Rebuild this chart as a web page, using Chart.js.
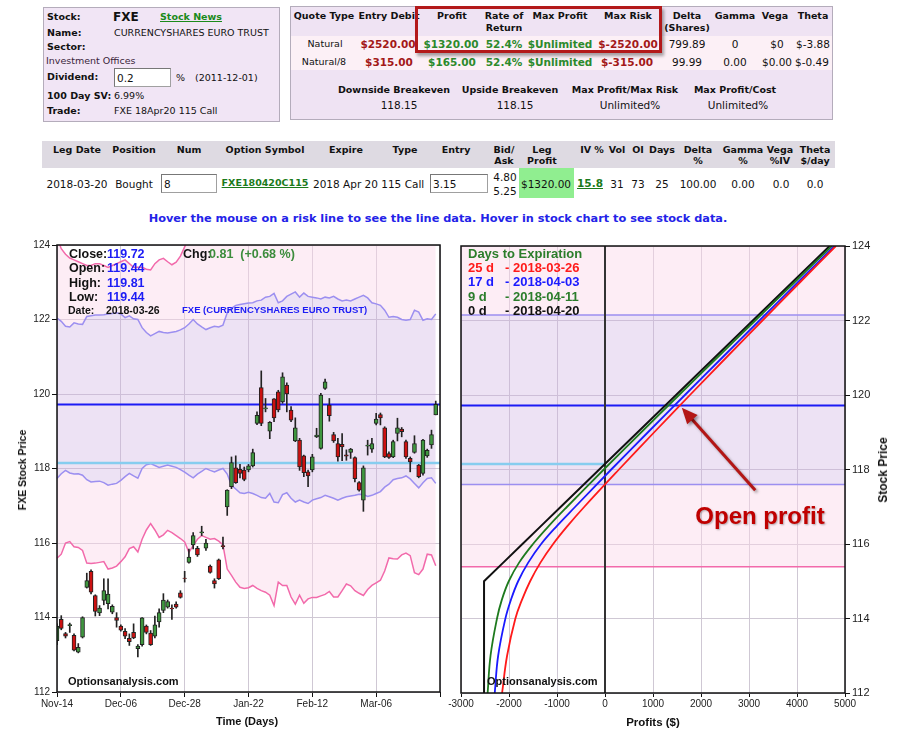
<!DOCTYPE html>
<html>
<head>
<meta charset="utf-8">
<title>FXE risk graph</title>
<script src="https://cdn.jsdelivr.net/npm/chart.js@4.4.0/dist/chart.umd.min.js"></script>
<style>
body{margin:0;background:#fff;width:900px;height:730px;position:relative;overflow:hidden;font-family:"DejaVu Sans",Verdana,sans-serif;color:#111}
.t{position:absolute;white-space:pre;line-height:14px;height:14px;font-size:10.5px}
.box{position:absolute;box-sizing:border-box}
canvas{position:absolute}
</style>
</head>
<body>
<canvas id="stockChart" width="450" height="500" style="left:0;top:235px"></canvas>
<canvas id="riskChart" width="460" height="500" style="left:440px;top:235px"></canvas>
<script>
// ==========================================
// STOCK DATA (daily candles)
// ==========================================
const days = [
  'Nov-14','Nov-15','Nov-16','Nov-17','Nov-20','Nov-21','Nov-22','Nov-24','Nov-27','Nov-28','Nov-29','Nov-30',
  'Dec-01','Dec-04','Dec-05','Dec-06','Dec-07','Dec-08','Dec-11','Dec-12','Dec-13','Dec-14','Dec-15','Dec-18',
  'Dec-19','Dec-20','Dec-21','Dec-22','Dec-26','Dec-27','Dec-28','Dec-29',
  'Jan-02','Jan-03','Jan-04','Jan-05','Jan-08','Jan-09','Jan-10','Jan-11','Jan-12','Jan-16','Jan-17','Jan-18',
  'Jan-19','Jan-22','Jan-23','Jan-24','Jan-25','Jan-26','Jan-29','Jan-30','Jan-31',
  'Feb-01','Feb-02','Feb-05','Feb-06','Feb-07','Feb-08','Feb-09','Feb-12','Feb-13','Feb-14','Feb-15','Feb-16',
  'Feb-20','Feb-21','Feb-22','Feb-23','Feb-26','Feb-27','Feb-28',
  'Mar-01','Mar-02','Mar-05','Mar-06','Mar-07','Mar-08','Mar-09','Mar-12','Mar-13','Mar-14','Mar-15','Mar-16',
  'Mar-19','Mar-20','Mar-21','Mar-22','Mar-23','Mar-26',''
];
const tickEvery = 15;

const open = [
  113.38,113.95,113.57,113.78,113.52,113.07,113.47,114.81,115.24,114.59,
  114.12,114.46,114.37,114.14,114.0,113.77,113.63,113.44,113.6,113.16,
  113.27,113.77,113.58,113.5,113.88,114.19,114.28,114.25,114.36,114.66,
  115.06,115.48,115.95,115.86,116.27,115.86,115.38,114.99,115.55,115.93,
  116.97,117.51,118.02,117.98,117.96,117.96,118.07,119.21,120.17,119.6,
  119.0,119.87,120.06,119.79,120.24,119.57,118.74,118.76,118.34,117.91,
  117.96,118.85,118.54,120.15,119.7,118.91,118.67,118.65,118.37,118.43,
  118.29,117.62,117.15,118.6,118.52,119.21,119.45,119.09,118.4,118.31,
  118.94,119.06,118.72,118.27,118.43,118.09,117.87,118.34,118.63,119.44
];
const high = [
  113.83,114.05,113.6,113.85,113.56,113.3,114.02,115.19,115.28,114.61,
  114.32,115.04,115.04,114.34,114.13,113.8,113.7,113.56,113.83,113.27,
  114.0,113.8,113.65,114.04,114.23,114.64,114.47,114.34,114.42,114.72,
  115.24,115.84,116.28,115.91,116.45,116.1,115.41,115.04,115.57,116.16,
  117.43,118.31,118.34,118.11,118.04,118.11,118.52,119.52,120.62,119.88,
  119.26,119.88,120.1,120.57,120.3,119.66,119.36,118.81,118.36,117.96,
  118.38,119.08,120.02,120.4,119.88,118.97,118.81,118.94,118.5,118.54,
  118.31,117.65,118.07,118.76,118.81,119.48,119.49,119.12,118.45,118.76,
  119.35,119.1,118.76,118.31,118.88,118.11,118.78,118.52,119.03,119.81
];
const low = [
  113.27,113.67,113.45,113.6,113.1,113.05,113.45,114.79,114.63,114.04,
  114.05,114.34,114.23,114.1,113.74,113.63,113.43,113.25,113.43,112.94,
  113.23,113.56,113.25,113.45,113.74,114.13,114.25,113.95,114.25,114.52,
  114.95,115.46,115.84,115.64,116.2,115.8,115.19,114.79,115.02,115.84,
  116.74,117.46,117.6,117.75,117.67,117.91,118.04,119.18,119.15,119.52,
  118.8,119.26,119.52,119.75,119.52,119.26,118.72,117.95,117.78,117.51,
  117.91,118.83,118.52,120.12,119.27,118.7,118.2,118.21,118.22,118.27,
  117.64,117.39,116.85,118.36,118.43,119.17,119.17,118.29,118.27,118.29,
  118.74,118.85,118.27,117.91,118.41,117.75,117.82,118.3,118.54,119.44
];
const close = [
  113.77,113.71,113.5,113.81,113.12,113.2,114.0,114.99,114.68,114.16,
  114.25,114.72,114.63,114.3,113.92,113.66,113.5,113.35,113.45,113.23,
  113.99,113.6,113.27,113.8,114.13,114.47,114.43,114.23,114.28,114.54,
  115.05,115.62,116.2,115.68,116.3,116.0,115.21,114.9,115.04,115.9,
  117.42,118.16,117.62,117.87,117.71,118.07,118.43,119.43,119.21,119.63,
  119.24,119.36,119.57,120.46,120.0,119.3,119.09,118.04,117.89,117.8,
  118.31,118.9,119.97,120.33,119.42,118.74,118.31,118.58,118.33,118.52,
  117.73,117.42,118.02,118.63,118.67,119.33,119.36,118.31,118.3,118.72,
  119.09,118.99,118.31,118.18,118.67,117.78,118.76,118.49,118.91,119.72
];

// volatility bands (1 SD purple, 2 SD pink)
const bandUpper = [
  122.04,121.95,121.82,121.8,121.91,121.88,121.87,122.08,122.1,122.12,
  122.12,122.13,122.15,122.16,122.18,122.15,122.05,122.1,122.02,122.0,
  121.78,121.65,121.56,121.62,121.68,121.65,121.64,121.66,121.68,121.72,
  121.78,121.88,122.0,121.88,121.8,121.73,121.78,121.82,121.8,121.85,
  122.18,122.3,122.38,122.4,122.42,122.44,122.45,122.5,122.52,122.6,
  122.62,122.7,122.45,122.5,122.62,122.68,122.74,122.6,122.71,122.62,
  122.6,122.58,122.55,122.6,122.58,122.62,122.55,122.5,122.52,122.5,
  122.55,122.6,122.65,122.58,122.45,122.42,122.38,122.25,122.06,122.08,
  122.06,122.0,121.98,122.0,122.25,122.2,121.98,122.02,122.0,122.15
];
const bandLower = [
  117.73,117.86,117.95,117.88,117.85,117.86,117.82,117.7,117.64,117.65,
  117.66,117.62,117.55,117.58,117.6,117.68,117.78,117.87,117.8,117.74,
  118.0,118.1,118.13,118.08,118.03,118.06,118.09,118.06,118.03,117.97,
  117.9,117.82,117.75,117.85,117.92,118.0,117.95,117.91,117.96,118.0,
  117.85,117.55,117.45,117.35,117.33,117.36,117.33,117.28,117.22,117.2,
  117.33,117.1,117.08,117.3,117.35,117.2,117.1,117.15,117.1,117.06,
  117.15,117.19,117.22,117.28,117.24,117.2,117.15,117.2,117.24,117.26,
  117.28,117.31,117.3,117.25,117.28,117.33,117.38,117.5,117.58,117.7,
  117.73,117.75,117.8,117.72,117.6,117.48,117.62,117.73,117.75,117.6
];
const outerUpper = [
  124.2,123.9,123.75,123.65,123.6,123.55,123.5,123.45,123.45,123.5,
  123.5,123.45,123.4,123.45,123.5,123.55,123.6,123.5,123.4,123.4,
  123.4,123.35,123.33,123.5,123.6,123.64,123.55,123.47,123.54,123.7,
  123.95,124.2,124.6,124.5,124.4,124.35,124.4,124.45,124.4,124.45,
  124.8,125.0,125.1,125.15,125.2,125.2,125.25,125.3,125.35,125.4,
  125.45,125.5,125.3,125.35,125.45,125.5,125.55,125.45,125.5,125.45,
  125.4,125.4,125.38,125.42,125.4,125.44,125.38,125.34,125.35,125.33,
  125.36,125.4,125.45,125.38,125.28,125.25,125.2,125.1,124.9,124.9,
  124.88,124.8,124.8,124.82,125.0,124.98,124.8,124.84,124.82,124.95
];
const outerLower = [
  115.59,115.7,116.0,116.04,115.9,115.88,115.8,115.46,115.45,115.46,
  115.48,115.5,115.3,115.33,115.38,115.5,115.63,115.85,115.9,115.76,
  116.1,116.35,116.52,116.35,116.15,116.22,116.34,116.28,116.2,116.12,
  116.03,115.75,115.93,116.1,116.2,116.15,116.1,116.12,116.05,115.95,
  115.3,115.13,114.95,114.81,114.78,114.8,114.86,114.78,114.72,114.68,
  114.6,114.32,114.95,114.86,114.86,114.55,114.36,114.6,114.38,114.5,
  114.54,114.54,114.58,114.62,114.7,114.55,114.55,114.72,114.9,114.85,
  114.72,114.65,114.59,114.75,114.86,114.93,115.0,115.25,115.6,115.58,
  115.57,115.68,115.73,115.66,115.2,115.15,115.3,115.7,115.68,115.39
];
const breakeven = 118.15;

// ==========================================
// RISK GRAPH DATA (profit $ at each stock price)
// ==========================================
const prices = [112,113,114,114.5,115,115.5,116,116.5,117,118,119,120,121,122,123,124];
const pl25d = [-2144,-2040,-1867,-1730,-1560,-1345,-1080,-770,-430,290,1025,1770,2522,3280,4043,4810];
const pl17d = [-2297,-2226,-2075,-1960,-1810,-1600,-1330,-990,-620,130,895,1665,2440,3218,3998,4780];
const pl9d  = [-2445,-2385,-2250,-2150,-2005,-1790,-1500,-1160,-790,-25,755,1542,2334,3130,3928,4727];
const pl0d  = [-2520,-2520,-2520,-2520,-2520,-2120,-1720,-1320,-920,-120,680,1480,2280,3080,3880,4680];

const gridColor = '#cfc8d4';
const pinkLine = '#f26aab';
const purpleLine = '#9c8ff0';
const pinkFill = 'rgba(250,214,232,0.45)';
const lavFill = 'rgba(205,175,225,0.36)';
const tickFont = {family: 'Liberation Sans', size: 10};

const frame = {
  id: 'frame',
  afterDraw(chart) {
    const {ctx, chartArea: a} = chart;
    ctx.save();
    ctx.strokeStyle = '#111';
    ctx.lineWidth = 1.5;
    ctx.strokeRect(a.left, a.top, a.right - a.left, a.bottom - a.top);
    ctx.restore();
  }
};

// ==========================================
// Stock chart
// ==========================================
const last = close.length - 1;
new Chart(document.getElementById('stockChart'), {
  type: 'bar',
  data: {
    labels: days,
    datasets: [
      {type: 'line', data: outerUpper, borderColor: pinkLine, borderWidth: 1.5, pointRadius: 0, fill: '+1', backgroundColor: pinkFill, order: 10},
      {type: 'line', data: bandUpper, borderColor: purpleLine, borderWidth: 1.5, pointRadius: 0, fill: '+1', backgroundColor: lavFill, order: 9},
      {type: 'line', data: bandLower, borderColor: purpleLine, borderWidth: 1.5, pointRadius: 0, fill: '+1', backgroundColor: pinkFill, order: 8},
      {type: 'line', data: outerLower, borderColor: pinkLine, borderWidth: 1.5, pointRadius: 0, fill: false, order: 7},
      {type: 'line', data: days.map(() => breakeven), borderColor: '#86cdef', borderWidth: 2.5, pointRadius: 0, order: 6},
      {type: 'line', data: days.map(() => close[last]), borderColor: '#1c1cf5', borderWidth: 2, pointRadius: 0, order: 5},
      {
        data: low.map((l, i) => [l, high[i]]),
        backgroundColor: '#222', barThickness: 1, grouped: false, order: 2
      },
      {
        data: open.map((o, i) => [o, close[i]]),
        backgroundColor: open.map((o, i) => close[i] >= o ? '#3f963f' : '#cc1111'),
        borderColor: '#222', borderWidth: 1, borderSkipped: false,
        barThickness: 4, grouped: false, order: 1
      }
    ]
  },
  options: {
    responsive: false,
    animation: false,
    layout: {padding: {top: 10, right: 10, left: 0, bottom: 0}},
    plugins: {legend: {display: false}, tooltip: {enabled: false}},
    scales: {
      x: {
        offset: false,
        grid: {
          offset: false,
          color: c => c.index % tickEvery === 0 ? gridColor : 'transparent',
          tickColor: c => c.index % tickEvery === 0 ? '#111' : 'transparent',
          tickLength: 5
        },
        border: {display: false},
        ticks: {
          autoSkip: false, maxRotation: 0, padding: 1, font: tickFont, color: '#222',
          callback: (v, i) => i % tickEvery === 0 ? days[i] : ''
        },
        afterFit: s => { s.height = 43; }
      },
      y: {
        min: 112, max: 124,
        grid: {color: gridColor, tickColor: '#111', tickLength: 5},
        border: {display: false},
        ticks: {stepSize: 2, font: tickFont, color: '#222', padding: 2},
        afterFit: s => { s.width = 57; }
      }
    }
  },
  plugins: [frame]
});

// ==========================================
// Risk graph
// ==========================================
const arrow = {
  id: 'arrow',
  afterDatasetsDraw(chart) {
    const {ctx, scales: {x, y}} = chart;
    const x0 = x.getPixelForValue(3130), y0 = y.getPixelForValue(117.44);
    const x1 = x.getPixelForValue(1600), y1 = y.getPixelForValue(119.66);
    const a = Math.atan2(y1 - y0, x1 - x0);
    const c = Math.cos(a), s = Math.sin(a);
    ctx.save();
    ctx.shadowColor = 'rgba(0,0,0,0.35)';
    ctx.shadowBlur = 3;
    ctx.shadowOffsetX = 2;
    ctx.shadowOffsetY = 2;
    ctx.strokeStyle = '#b31616';
    ctx.fillStyle = '#b31616';
    ctx.lineWidth = 3;
    ctx.beginPath();
    ctx.moveTo(x0, y0);
    ctx.lineTo(x1 - 12 * c, y1 - 12 * s);
    ctx.stroke();
    ctx.beginPath();
    ctx.moveTo(x1, y1);
    ctx.lineTo(x1 - 16 * c + 7 * s, y1 - 16 * s - 7 * c);
    ctx.lineTo(x1 - 16 * c - 7 * s, y1 - 16 * s + 7 * c);
    ctx.closePath();
    ctx.fill();
    ctx.restore();
  }
};

const level = (v, from, to) => [{x: from, y: v}, {x: to, y: v}];
const curve = pl => prices.map((p, i) => ({x: pl[i], y: p}));

new Chart(document.getElementById('riskChart'), {
  type: 'line',
  data: {
    datasets: [
      {data: level(outerUpper[last], -3000, 5000), borderWidth: 0, pointRadius: 0, fill: '+1', backgroundColor: pinkFill, order: 10},
      {data: level(bandUpper[last], -3000, 5000), borderColor: purpleLine, borderWidth: 1.5, pointRadius: 0, fill: '+1', backgroundColor: lavFill, order: 9},
      {data: level(bandLower[last], -3000, 5000), borderColor: purpleLine, borderWidth: 1.5, pointRadius: 0, fill: '+1', backgroundColor: pinkFill, order: 8},
      {data: level(outerLower[last], -3000, 5000), borderColor: pinkLine, borderWidth: 1.5, pointRadius: 0, fill: false, order: 7},
      {data: level(breakeven, -3000, 0), borderColor: '#86cdef', borderWidth: 2.5, pointRadius: 0, order: 6},
      {data: level(close[last], -3000, 5000), borderColor: '#1c1cf5', borderWidth: 2, pointRadius: 0, order: 5},
      {data: [{x: 0, y: 112}, {x: 0, y: 124}], borderColor: '#333', borderWidth: 2, pointRadius: 0, order: 4},
      {data: curve(pl0d), borderColor: '#111', borderWidth: 2, pointRadius: 0, order: 3},
      {data: curve(pl9d), borderColor: '#1e7a1e', borderWidth: 1.8, pointRadius: 0, tension: 0.4, order: 2},
      {data: curve(pl17d), borderColor: '#1a1aff', borderWidth: 1.8, pointRadius: 0, tension: 0.4, order: 1},
      {data: curve(pl25d), borderColor: '#ff1a1a', borderWidth: 1.8, pointRadius: 0, tension: 0.4, order: 0}
    ]
  },
  options: {
    responsive: false,
    animation: false,
    layout: {padding: {top: 11, right: 0, left: 21, bottom: 0}},
    plugins: {legend: {display: false}, tooltip: {enabled: false}},
    scales: {
      x: {
        type: 'linear', min: -3000, max: 5000,
        grid: {color: gridColor, tickColor: '#111', tickLength: 4},
        border: {display: false},
        ticks: {stepSize: 1000, font: tickFont, color: '#222', padding: 1, callback: v => String(v)},
        afterFit: s => { s.height = 42; }
      },
      y: {
        type: 'linear', position: 'right', min: 112, max: 124,
        grid: {color: gridColor, tickColor: '#111', tickLength: 5},
        border: {display: false},
        ticks: {stepSize: 2, font: {family: 'Liberation Sans', size: 11}, color: '#222', padding: 2},
        afterFit: s => { s.width = 55; }
      }
    }
  },
  plugins: [frame, arrow]
});

// ==========================================
// PAGE TEXT
// ==========================================
function put(x, y, text, style, center) {
  const s = document.createElement('span');
  s.className = 't';
  s.textContent = text;
  s.style.cssText = style || '';
  s.style.left = x + 'px';
  s.style.top = (y - 7) + 'px';
  if (center) s.style.transform = 'translateX(-50%)';
  document.body.appendChild(s);
  return s;
}
function box(x, y, w, h, style) {
  const d = document.createElement('div');
  d.className = 'box';
  d.style.cssText = style;
  d.style.left = x + 'px';
  d.style.top = y + 'px';
  d.style.width = w + 'px';
  d.style.height = h + 'px';
  document.body.appendChild(d);
}
function field(x, y, w, h, text) {
  box(x, y, w, h, 'background:#fff;border:1px solid #a0a0a0;border-top-color:#777;border-left-color:#777');
  put(x + 3, y + h / 2, text, 'font-size:10.5px');
}

const B = 'font-weight:bold;font-size:9.5px;';
const N = 'font-size:9.5px;';
const RED = 'font-weight:bold;font-size:10.5px;color:#a31818;';
const GRN = 'font-weight:bold;font-size:10.5px;color:#2c8a2c;';
const V = 'font-size:10.5px;';

// stock box
box(43, 7, 237, 115, 'background:#f1e5f5;border:1px solid #b4acbb');
put(47, 17, 'Stock:', B);
put(113, 17, 'FXE', 'font-weight:bold;font-size:12px');
put(160, 17, 'Stock News', B + 'color:#1b8a1b;text-decoration:underline');
put(47, 33, 'Name:', B);
put(114, 33, 'CURRENCYSHARES EURO TRUST', N);
put(47, 47, 'Sector:', B);
put(46, 61, 'Investment Offices', N + 'color:#3b1f3b');
put(47, 77, 'Dividend:', B);
field(114, 68, 57, 19, '0.2');
put(176, 78, '%', N);
put(195, 78, '(2011-12-01)', N);
put(47, 96, '100 Day SV:', B);
put(114, 96, '6.99%', N);
put(47, 111, 'Trade:', B);
put(114, 111, 'FXE 18Apr20 115 Call', N);

// quote box
box(290, 6, 543, 114, 'background:#efe3f3;border:1px solid #b4acbb');
box(291, 36, 541, 34, 'background:#fcf0f6');
[[324, 'Quote Type'], [389, 'Entry Debit'], [452, 'Profit'], [504, 'Rate of', 'Return'],
 [560, 'Max Profit'], [628, 'Max Risk'], [687, 'Delta', '(Shares)'], [735, 'Gamma'],
 [775, 'Vega'], [813, 'Theta']].forEach(h => {
  put(h[0], 16, h[1], B, true);
  if (h[2]) put(h[0], 28, h[2], B, true);
});
put(325, 44, 'Natural', N, true);
put(388, 44, '$2520.00', RED, true);
put(451, 44, '$1320.00', GRN, true);
put(504, 44, '52.4%', GRN, true);
put(560, 44, '$Unlimited', GRN, true);
put(628, 44, '$-2520.00', RED, true);
put(687, 44, '799.89', V, true);
put(735, 44, '0', V, true);
put(777, 44, '$0', V, true);
put(813, 44, '$-3.88', V, true);
put(324, 62, 'Natural/8', N, true);
put(389, 62, '$315.00', RED, true);
put(452, 62, '$165.00', GRN, true);
put(504, 62, '52.4%', GRN, true);
put(560, 62, '$Unlimited', GRN, true);
put(627, 62, '$-315.00', RED, true);
put(687, 62, '99.99', V, true);
put(735, 62, '0.00', V, true);
put(777, 62, '$0.00', V, true);
put(812, 62, '$-0.49', V, true);
put(394, 90, 'Downside Breakeven', B, true);
put(510, 90, 'Upside Breakeven', B, true);
put(625, 90, 'Max Profit/Max Risk', B, true);
put(735, 90, 'Max Profit/Cost', B, true);
put(399, 105, '118.15', V, true);
put(515, 105, '118.15', V, true);
put(630, 105, 'Unlimited%', V, true);
put(738, 105, 'Unlimited%', V, true);
box(415, 6, 247, 47, 'border:3px solid #b3191a;box-shadow:2px 3px 3px rgba(0,0,0,0.35)');

// leg table
box(42, 141, 793, 27, 'background:#dedae2');
[[77, 'Leg Date'], [134, 'Position'], [189, 'Num'], [265, 'Option Symbol'], [346, 'Expire'],
 [405, 'Type'], [456, 'Entry'], [504, 'Bid/', 'Ask'], [542, 'Leg', 'Profit'], [592, 'IV %'],
 [617, 'Vol'], [638, 'OI'], [662, 'Days'], [698, 'Delta', '%'], [743, 'Gamma', '%'],
 [780, 'Vega', '%IV'], [815, 'Theta', '$/day']].forEach(h => {
  put(h[0], 150, h[1], B, true);
  if (h[2]) put(h[0], 161, h[2], B, true);
});
put(77, 184, '2018-03-20', V, true);
put(134, 184, 'Bought', V, true);
field(161, 174, 56, 19, '8');
put(265, 183, 'FXE180420C115', B + 'color:#1b7a1b;text-decoration:underline', true);
put(313, 184, '2018 Apr 20 115 Call', V);
field(430, 174, 58, 19, '3.15');
put(505, 177, '4.80', V, true);
put(505, 191, '5.25', V, true);
box(519, 168, 55, 30, 'background:#90ee90');
put(546, 184, '$1320.00', V, true);
put(590, 183, '15.8', 'font-weight:bold;font-size:10.5px;color:#1b7a1b;text-decoration:underline', true);
put(617, 184, '31', V, true);
put(638, 184, '73', V, true);
put(662, 184, '25', V, true);
put(698, 184, '100.00', V, true);
put(743, 184, '0.00', V, true);
put(781, 184, '0.0', V, true);
put(815, 184, '0.0', V, true);

put(438, 219, 'Hover the mouse on a risk line to see the line data. Hover in stock chart to see stock data.',
  'font-weight:bold;font-size:11.3px;color:#2323e8', true);

// chart captions
const A = 'font-family:"Liberation Sans",Arial,sans-serif;font-weight:bold;';
const L = A + 'font-size:12.5px;';
put(69, 254, 'Close:', L);
put(107, 254, '119.72', L + 'color:#1c1cf5');
put(183, 254, 'Chg:', L);
put(209, 254, '0.81  (+0.68 %)', L + 'color:#3c8c3c');
put(69, 268, 'Open:', L);
put(107, 268, '119.44', L + 'color:#1c1cf5');
put(69, 283, 'High:', L);
put(107, 283, '119.81', L + 'color:#1c1cf5');
put(69, 297, 'Low:', L);
put(107, 297, '119.44', L + 'color:#1c1cf5');
put(68, 310, 'Date:', A + 'font-size:10.5px');
put(106, 310, '2018-03-26', A + 'font-size:10.5px');
put(182, 310, 'FXE (CURRENCYSHARES EURO TRUST)', A + 'font-size:9.5px;color:#1c1cf5');
put(68, 681, 'Optionsanalysis.com', A + 'font-size:11px');
put(487, 681, 'Optionsanalysis.com', A + 'font-size:11px');

put(468, 254, 'Days to Expiration', A + 'font-size:13px;color:#2b7d2b');
[[268, '25 d', '- 2018-03-26', '#ff1a1a'], [282, '17 d', '- 2018-04-03', '#1a1aff'],
 [297, '9 d', '- 2018-04-11', '#2b7d2b'], [311, '0 d', '- 2018-04-20', '#111']].forEach(r => {
  put(468, r[0], r[1], A + 'font-size:13px;color:' + r[3]);
  put(505, r[0], r[2], A + 'font-size:13px;color:' + r[3]);
});

const op = put(760, 516, 'Open profit', A + 'font-size:24px;color:#c00000;line-height:28px;height:28px;text-shadow:1px 1px 2px rgba(0,0,0,0.3)', true);
op.style.top = '502px';

put(247, 721, 'Time (Days)', A + 'font-size:11px', true);
put(653, 722, 'Profits ($)', A + 'font-size:11.5px', true);
put(22, 470, 'FXE Stock Price', A + 'font-size:10.5px').style.transform = 'translateX(-50%) rotate(-90deg)';
put(883, 470, 'Stock Price', A + 'font-size:12px').style.transform = 'translateX(-50%) rotate(-90deg)';
</script>
</body>
</html>
